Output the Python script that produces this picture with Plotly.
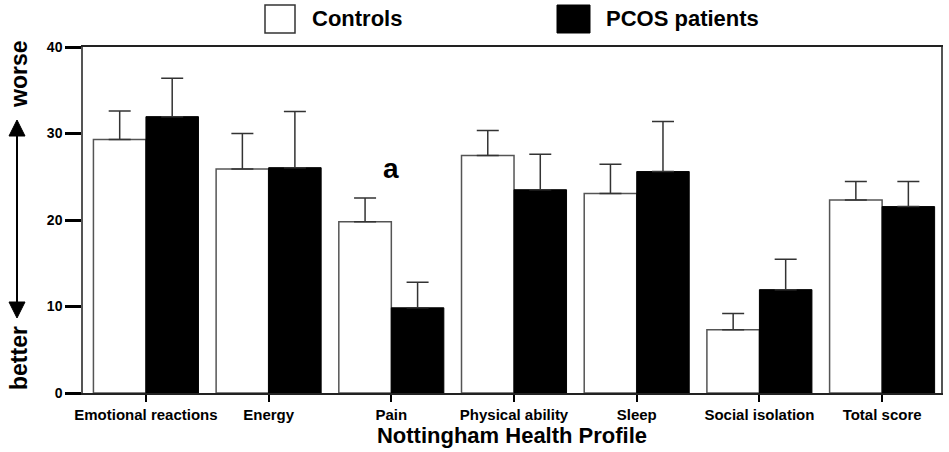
import plotly.graph_objects as go

categories = ["Emotional reactions", "Energy", "Pain", "Physical ability", "Sleep", "Social isolation", "Total score"]
controls = [29.3, 25.9, 19.8, 27.45, 23.05, 7.3, 22.3]
controls_err = [3.3, 4.1, 2.75, 2.9, 3.4, 1.9, 2.15]
pcos = [31.95, 26.05, 9.85, 23.5, 25.6, 11.95, 21.55]
pcos_err = [4.45, 6.5, 2.95, 4.1, 5.8, 3.5, 2.9]
y_ticks = [0, 10, 20, 30, 40]

W, H = 949, 452
L, R, T, B = 83, 941, 47, 393  # plot area in pixels
pw, ph = R - L, B - T


def px(x):
    return (x - L) / pw


def py(y):
    return (B - y) / ph


fig = go.Figure()
fig.add_trace(go.Bar(
    x=categories, y=controls, name="Controls",
    marker=dict(color="white", line=dict(color="#555555", width=1.5)),
    error_y=dict(type="data", symmetric=False, array=controls_err,
                 arrayminus=[0] * len(controls), color="#333333", thickness=1.5, width=11),
))
fig.add_trace(go.Bar(
    x=categories, y=pcos, name="PCOS patients",
    marker=dict(color="black", line=dict(color="black", width=1)),
    error_y=dict(type="data", symmetric=False, array=pcos_err,
                 arrayminus=[0] * len(pcos), color="#333333", thickness=1.5, width=11),
))

fig.update_layout(
    width=W, height=H,
    margin=dict(l=L, r=W - R, t=T, b=H - B, autoexpand=False),
    paper_bgcolor="white", plot_bgcolor="white",
    barmode="group", bargap=0.144, bargroupgap=0,
    showlegend=False,
    font=dict(family="Liberation Sans, Arial, sans-serif", color="black"),
)
fig.update_xaxes(
    range=[-0.513, 6.48],
    showline=True, linecolor="#222222", linewidth=2, mirror=True,
    ticks="outside", ticklen=7, tickwidth=2, tickcolor="black",
    tickvals=categories, ticktext=[f"<b>{c}</b>" for c in categories],
    tickfont=dict(size=15, color="black"),
    title=dict(text="<b>Nottingham Health Profile</b>", font=dict(size=22), standoff=4),
    showgrid=False,
)
fig.update_yaxes(
    range=[0, 40], tickvals=y_ticks, ticktext=[f"<b>{v}</b>" for v in y_ticks],
    showline=True, linecolor="#555555", linewidth=1.5, mirror=True,
    ticks="outside", ticklen=16, tickwidth=2.5, tickcolor="black",
    tickfont=dict(size=14), showgrid=False, zeroline=False,
)

# "a" annotation over Pain
fig.add_annotation(x="Pain", y=26, text="<b>a</b>", showarrow=False,
                   font=dict(size=28), xanchor="center", yanchor="middle")

# Legend swatches and labels
shapes = []
shapes.append(dict(type="rect", xref="paper", yref="paper",
                   x0=px(265), x1=px(295), y0=py(33), y1=py(5),
                   line=dict(color="#333333", width=1.5), fillcolor="white"))
shapes.append(dict(type="rect", xref="paper", yref="paper",
                   x0=px(557), x1=px(590), y0=py(33), y1=py(5),
                   line=dict(color="black", width=1), fillcolor="black"))
fig.add_annotation(xref="paper", yref="paper", x=px(310), y=py(19), text="<b>Controls</b>",
                   showarrow=False, xanchor="left", yanchor="middle", font=dict(size=22))
fig.add_annotation(xref="paper", yref="paper", x=px(604), y=py(19), text="<b>PCOS patients</b>",
                   showarrow=False, xanchor="left", yanchor="middle", font=dict(size=22))

# worse / better labels with double arrow
fig.add_annotation(xref="paper", yref="paper", x=px(19), y=py(75), text="<b>worse</b>",
                   showarrow=False, textangle=-90, font=dict(size=23),
                   xanchor="center", yanchor="middle")
fig.add_annotation(xref="paper", yref="paper", x=px(19), y=py(358), text="<b>better</b>",
                   showarrow=False, textangle=-90, font=dict(size=23),
                   xanchor="center", yanchor="middle")
ax_x = 17
shapes.append(dict(type="line", xref="paper", yref="paper",
                   x0=px(ax_x), x1=px(ax_x), y0=py(130), y1=py(306),
                   line=dict(color="black", width=2)))
shapes.append(dict(type="path", xref="paper", yref="paper",
                   path=f"M {px(ax_x)},{py(120)} L {px(ax_x - 8)},{py(136)} L {px(ax_x + 8)},{py(136)} Z",
                   fillcolor="black", line=dict(color="black", width=1)))
shapes.append(dict(type="path", xref="paper", yref="paper",
                   path=f"M {px(ax_x)},{py(318)} L {px(ax_x - 8)},{py(302)} L {px(ax_x + 8)},{py(302)} Z",
                   fillcolor="black", line=dict(color="black", width=1)))
fig.update_layout(shapes=shapes)

fig.write_html(
    "out.html",
    config={"displayModeBar": False},
    post_script="document.body.style.margin='0';document.body.style.overflow='hidden';",
)
